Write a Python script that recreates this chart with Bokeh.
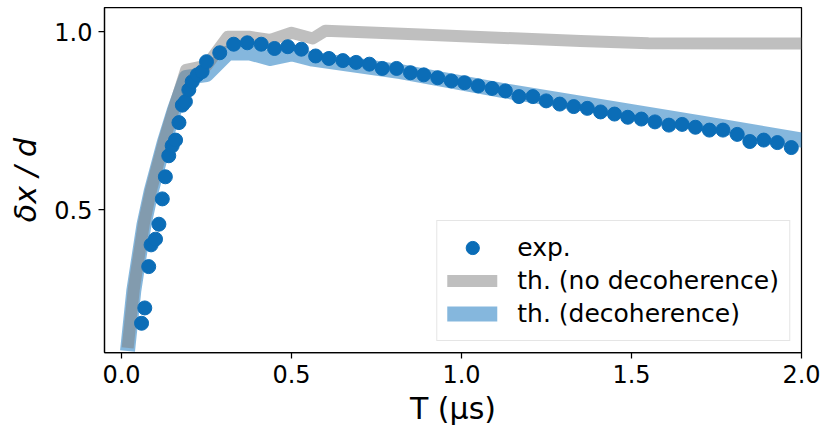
from bokeh.plotting import figure
from bokeh.models import Range1d, FixedTicker, Legend, LegendItem
from bokeh.embed import file_html
from bokeh.resources import INLINE

# experimental points
exp_t = [0.059, 0.0685, 0.080, 0.087, 0.100, 0.110, 0.120, 0.129, 0.139, 0.149,
         0.159, 0.169, 0.179, 0.188, 0.198, 0.208, 0.223, 0.237, 0.25,
         0.289, 0.330, 0.370, 0.411, 0.45, 0.489, 0.529, 0.571, 0.610, 0.651,
         0.69, 0.729, 0.767,
         0.809, 0.85, 0.889, 0.930, 0.970, 1.009, 1.049, 1.090, 1.129, 1.169,
         1.21, 1.249, 1.289, 1.330, 1.37, 1.409, 1.45, 1.489, 1.529, 1.569,
         1.61, 1.649, 1.688, 1.729, 1.769, 1.811, 1.848, 1.889, 1.929, 1.97]
exp_dx = [0.182, 0.225, 0.341, 0.402, 0.418, 0.460, 0.531, 0.593, 0.652, 0.680,
          0.696, 0.745, 0.794, 0.804, 0.837, 0.860, 0.879, 0.888, 0.916,
          0.941, 0.965, 0.969, 0.965, 0.953, 0.958, 0.951, 0.932, 0.925, 0.919,
          0.914, 0.909, 0.897,
          0.897, 0.885, 0.879, 0.871, 0.862, 0.857, 0.848, 0.841, 0.834, 0.818,
          0.818, 0.806, 0.797, 0.790, 0.785, 0.775, 0.769, 0.760, 0.755, 0.747,
          0.738, 0.740, 0.732, 0.724, 0.724, 0.712, 0.692, 0.696, 0.689, 0.675]

# theory without decoherence
th_nodec_t = [0.02, 0.036, 0.066, 0.087, 0.126, 0.156, 0.19, 0.25, 0.3125,
              0.375, 0.4375, 0.5, 0.5625, 0.6, 0.88, 1.35, 1.55, 2.0]
th_nodec_dx = [0.13, 0.276, 0.463, 0.556, 0.696, 0.790, 0.893, 0.905, 0.986,
               0.986, 0.977, 0.997, 0.981, 1.003, 0.992, 0.974, 0.968, 0.967]

# theory with decoherence
th_dec_t = [0.02, 0.036, 0.066, 0.087, 0.126, 0.156, 0.19, 0.25, 0.3125,
            0.375, 0.4375, 0.5, 0.5625, 0.82, 1.115, 1.703, 2.0]
th_dec_dx = [0.125, 0.272, 0.458, 0.551, 0.690, 0.782, 0.872, 0.880, 0.940,
             0.941, 0.925, 0.938, 0.923, 0.888, 0.836, 0.744, 0.696]

x_ticks = [0.0, 0.5, 1.0, 1.5, 2.0]
y_ticks = [0.5, 1.0]

BLUE = "#0b6db7"
FONT = "DejaVu Sans"

p = figure(width=822, height=432, x_range=Range1d(-0.05, 2.0),
           y_range=Range1d(0.1, 1.068), output_backend="svg",
           toolbar_location=None, min_border_left=104, min_border_right=21,
           min_border_top=7, min_border_bottom=80)
p.background_fill_color = "white"
p.border_fill_color = "white"
p.outline_line_color = "black"
p.outline_line_width = 1.25
p.xgrid.visible = False
p.ygrid.visible = False

r_dec = p.line(th_dec_t, th_dec_dx, line_color="#0b6fbb", line_alpha=0.5,
               line_width=15, line_cap="square", line_join="round")
r_nodec = p.line(th_nodec_t, th_nodec_dx, line_color="#808080", line_alpha=0.5,
                 line_width=12, line_cap="square", line_join="round")
r_exp = p.scatter(exp_t, exp_dx, size=14, fill_color=BLUE, line_color=BLUE)

for ax in (p.xaxis[0], p.yaxis[0]):
    ax.axis_line_color = "black"
    ax.axis_line_width = 1.25
    ax.major_tick_line_color = "black"
    ax.major_tick_line_width = 1.25
    ax.major_tick_out = 6
    ax.major_tick_in = 0
    ax.minor_tick_line_color = None
    ax.major_label_text_font = FONT
    ax.major_label_text_font_size = "24px"
    ax.major_label_text_color = "black"
    ax.axis_label_text_font = FONT
    ax.axis_label_text_font_size = "30px"
    ax.axis_label_text_color = "black"

p.xaxis.ticker = FixedTicker(ticks=x_ticks)
p.yaxis.ticker = FixedTicker(ticks=y_ticks)
p.xaxis.major_label_overrides = {v: f"{v:.1f}" for v in x_ticks}
p.yaxis.major_label_overrides = {v: f"{v:.1f}" for v in y_ticks}
p.xaxis.axis_label = "T (μs)"
p.yaxis.axis_label = "δx / d"
p.xaxis.axis_label_text_font_style = "normal"
p.yaxis.axis_label_text_font_style = "italic"
p.xaxis.major_label_standoff = 6
p.yaxis.major_label_standoff = 6
p.xaxis.axis_label_standoff = 5
p.yaxis.axis_label_standoff = 8

legend = Legend(items=[LegendItem(label="exp.", renderers=[r_exp]),
                       LegendItem(label="th. (no decoherence)", renderers=[r_nodec]),
                       LegendItem(label="th. (decoherence)", renderers=[r_dec])],
                location="bottom_right")
legend.margin = 11
legend.padding = 10
legend.spacing = 0
legend.glyph_width = 50
legend.glyph_height = 33
legend.label_standoff = 20
legend.label_text_font = FONT
legend.label_text_font_size = "25px"
legend.label_text_color = "black"
legend.border_line_color = "#cccccc"
legend.border_line_width = 1
legend.background_fill_alpha = 0.8
p.add_layout(legend)

open("out.html", "w").write(file_html(p, INLINE))
